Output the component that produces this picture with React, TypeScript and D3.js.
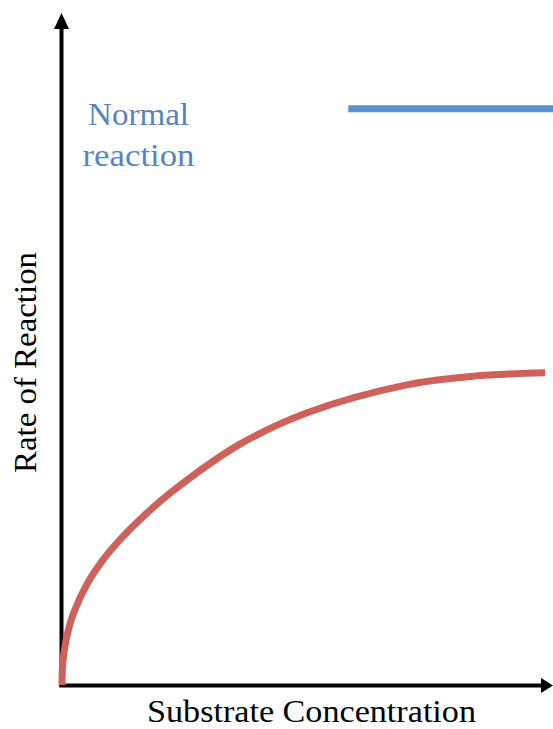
import React from "react";
import * as d3 from "d3";

const W = 553;
const H = 729;

// Enzyme curve (substrate concentration vs rate), arbitrary units 0-100
const substrate = [0, 0.1, 0.41, 1.28, 2.44, 5.36, 8.15, 12.2, 16.9, 22.3, 35.9, 49.8, 70.2, 83.8, 98.4];
const rate = [0, 2.7, 4.9, 8.2, 10.9, 15.4, 18.5, 22.0, 25.4, 28.8, 35.8, 40.6, 44.8, 46.1, 46.6];

// Normal reaction reference line
const normalX = [58.3, 100];
const normalY = [86, 86];

const xLabel = "Substrate Concentration";
const yLabel = "Rate of Reaction";
const normalLabel = ["Normal", "reaction"];

export default function App() {
  const x = d3.scaleLinear().domain([0, 100]).range([62, 553]);
  const y = d3.scaleLinear().domain([0, 100]).range([685, 15]);

  const curve = d3
    .line<number>()
    .x((_, i) => x(substrate[i]))
    .y((d) => y(d))
    .curve(d3.curveCatmullRom.alpha(0.5))(rate);

  const normal = d3
    .line<number>()
    .x((_, i) => x(normalX[i]))
    .y((d) => y(d))(normalY);

  const font = "'Liberation Serif', 'DejaVu Serif', serif";

  return (
    <svg
      width={W}
      height={H}
      style={{ position: "absolute", left: 0, top: 0, background: "#fff" }}
    >
      {/* axes */}
      <line x1={61.5} y1={27} x2={61.5} y2={687} stroke="#000" strokeWidth={4} />
      <polygon points="54,29 61.5,13 69,29" fill="#000" />
      <line x1={59.5} y1={685.5} x2={543} y2={685.5} stroke="#000" strokeWidth={4} />
      <polygon points="541,678 553,685.5 541,693" fill="#000" />

      {/* series */}
      <path d={normal ?? ""} fill="none" stroke="#5b93c8" strokeWidth={7} />
      <path d={curve ?? ""} fill="none" stroke="#cf615b" strokeWidth={7} />

      {/* labels */}
      <text x={138.5} y={125} textAnchor="middle" fontFamily={font} fontSize={31} fill="#5584c0"
        textLength={101} lengthAdjust="spacingAndGlyphs">
        {normalLabel[0]}
      </text>
      <text x={138.5} y={166} textAnchor="middle" fontFamily={font} fontSize={31} fill="#5584c0"
        textLength={112} lengthAdjust="spacingAndGlyphs">
        {normalLabel[1]}
      </text>
      <text x={311.5} y={722} textAnchor="middle" fontFamily={font} fontSize={31} fill="#000"
        textLength={329} lengthAdjust="spacingAndGlyphs">
        {xLabel}
      </text>
      <text
        transform="translate(36,362.5) rotate(-90)"
        textAnchor="middle"
        fontFamily={font}
        fontSize={31}
        fill="#000"
        textLength={221}
        lengthAdjust="spacingAndGlyphs"
      >
        {yLabel}
      </text>
    </svg>
  );
}
